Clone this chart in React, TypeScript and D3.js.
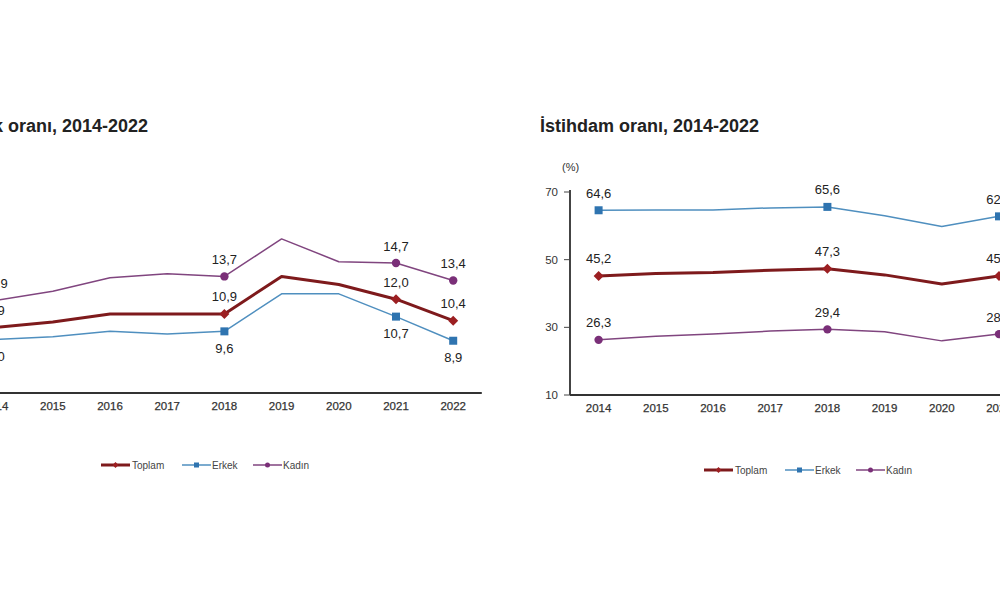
import * as React from 'react';
import * as d3 from 'd3';

// years on the x axis
const years = ['2014', '2015', '2016', '2017', '2018', '2019', '2020', '2021', '2022'];

// İşsizlik oranı (%)
const issizlikToplam = [9.9, 10.3, 10.9, 10.9, 10.9, 13.7, 13.1, 12.0, 10.4];
const issizlikErkek = [9.0, 9.2, 9.6, 9.4, 9.6, 12.4, 12.4, 10.7, 8.9];
const issizlikKadin = [11.9, 12.6, 13.6, 13.9, 13.7, 16.5, 14.8, 14.7, 13.4];

// İstihdam oranı (%)
const istihdamToplam = [45.2, 45.9, 46.2, 46.9, 47.3, 45.5, 42.8, 45.2, 47.5];
const istihdamErkek = [64.6, 64.7, 64.7, 65.3, 65.6, 63.0, 59.8, 62.8, 65.0];
const istihdamKadin = [26.3, 27.4, 28.0, 28.9, 29.4, 28.7, 26.0, 28.0, 30.4];

// which years get a marker and a value label
const labelledYears = ['2014', '2018', '2021', '2022'];

const issizlikTicks = [5, 10, 15, 20];
const istihdamTicks = [10, 30, 50, 70];

const colors = {
  Toplam: { line: '#7e1a1c', marker: '#9c1f22', width: 3 },
  Erkek: { line: '#4f8fbf', marker: '#2f74b0', width: 1.5 },
  Kadın: { line: '#80457f', marker: '#7a2f78', width: 1.5 },
} as Record<string, { line: string; marker: string; width: number }>;

const FONT = 'Arial, "Liberation Sans", sans-serif';

function fmt(v: number) {
  return v.toFixed(1).replace('.', ',');
}

interface ChartProps {
  x0: number; // position of the y axis
  title: string;
  titleX: number;
  domain: [number, number];
  ticks: number[];
  toplam: number[];
  erkek: number[];
  kadin: number[];
  // label placement: -1 above marker, 1 below
  labelSide: Record<string, number>;
  axisY: number;
  legendY: number;
}

function LineChart({ x0, title, titleX, domain, ticks, toplam, erkek, kadin, labelSide, axisY, legendY }: ChartProps) {
  const top = 192;
  const x = d3.scalePoint<string>().domain(years).range([x0, x0 + 9 * 57.2]).padding(0.5);
  const y = d3.scaleLinear().domain(domain).range([axisY, top]);
  const line = d3
    .line<number>()
    .x((_d, i) => x(years[i]) as number)
    .y((d) => y(d));

  const series = [
    { name: 'Kadın', values: kadin },
    { name: 'Erkek', values: erkek },
    { name: 'Toplam', values: toplam },
  ];

  const marker = (name: string, cx: number, cy: number, key: string) => {
    const c = colors[name].marker;
    if (name === 'Toplam') {
      const s = 5;
      return (
        <path key={key} d={`M${cx},${cy - s}L${cx + s},${cy}L${cx},${cy + s}L${cx - s},${cy}Z`} fill={c} />
      );
    }
    if (name === 'Erkek') {
      return <rect key={key} x={cx - 4} y={cy - 4} width={8} height={8} fill={c} />;
    }
    return <circle key={key} cx={cx} cy={cy} r={4.2} fill={c} />;
  };

  const legendX = x0 + 134;
  const legendItems = [
    { name: 'Toplam', lx: legendX, tx: legendX + 31 },
    { name: 'Erkek', lx: legendX + 81, tx: legendX + 111 },
    { name: 'Kadın', lx: legendX + 152, tx: legendX + 182 },
  ];

  return (
    <g fontFamily={FONT}>
      <text x={titleX} y={132} fontSize={18} fontWeight="bold" fill="#222">
        {title}
      </text>
      <text x={x0 - 8} y={171} fontSize={11} fill="#333">
        (%)
      </text>
      {/* y axis */}
      <line x1={x0} x2={x0} y1={top - 2} y2={axisY} stroke="#444" strokeWidth={2} />
      {ticks.map((t) => (
        <g key={t}>
          <line x1={x0 - 6} x2={x0} y1={y(t)} y2={y(t)} stroke="#444" strokeWidth={1} />
          <text x={x0 - 12} y={y(t)} dy="0.35em" textAnchor="end" fontSize={11.5} fill="#333">
            {t}
          </text>
        </g>
      ))}
      {/* x axis */}
      <line x1={x0} x2={x0 + 9 * 57.2} y1={axisY} y2={axisY} stroke="#333" strokeWidth={2} />
      {years.map((yr) => (
        <text
          key={yr}
          x={x(yr)}
          y={axisY + 17}
          textAnchor="middle"
          fontSize={11.5}
          fill="#333"
          stroke="#333"
          strokeWidth={0.25}
        >
          {yr}
        </text>
      ))}
      {/* lines */}
      {series.map((s) => (
        <path
          key={s.name}
          d={line(s.values) ?? ''}
          fill="none"
          stroke={colors[s.name].line}
          strokeWidth={colors[s.name].width}
          strokeLinejoin="round"
        />
      ))}
      {/* markers and labels */}
      {series.map((s) =>
        labelledYears.map((yr) => {
          const i = years.indexOf(yr);
          const cx = x(yr) as number;
          const cy = y(s.values[i]);
          return (
            <g key={s.name + yr}>
              {marker(s.name, cx, cy, 'm')}
              <text
                x={cx}
                y={cy + labelSide[s.name] * 17}
                dy="0.35em"
                textAnchor="middle"
                fontSize={13}
                fill="#222"
              >
                {fmt(s.values[i])}
              </text>
            </g>
          );
        })
      )}
      {/* legend */}
      {legendItems.map((it) => (
        <g key={it.name}>
          <line
            x1={it.lx}
            x2={it.lx + 29}
            y1={legendY}
            y2={legendY}
            stroke={colors[it.name].line}
            strokeWidth={it.name === 'Toplam' ? 3 : 1.5}
          />
          {it.name === 'Toplam' ? (
            <path
              d={`M${it.lx + 14.5},${legendY - 3}L${it.lx + 17.5},${legendY}L${it.lx + 14.5},${legendY + 3}L${it.lx + 11.5},${legendY}Z`}
              fill={colors[it.name].marker}
            />
          ) : it.name === 'Erkek' ? (
            <rect x={it.lx + 12} y={legendY - 2.5} width={5} height={5} fill={colors[it.name].marker} />
          ) : (
            <circle cx={it.lx + 14.5} cy={legendY} r={2.5} fill={colors[it.name].marker} />
          )}
          <text x={it.tx} y={legendY} dy="0.35em" fontSize={10} fill="#444">
            {it.name}
          </text>
        </g>
      ))}
    </g>
  );
}

export default function App() {
  return (
    <svg
      width={1000}
      height={593}
      viewBox="0 0 1000 593"
      style={{ position: 'absolute', left: 0, top: 0, display: 'block', background: '#fff' }}
    >
      <rect width={1000} height={593} fill="#fff" />
      <LineChart
        x0={-33}
        title="İşsizlik oranı, 2014-2022"
        titleX={-56}
        domain={[5, 20]}
        ticks={issizlikTicks}
        toplam={issizlikToplam}
        erkek={issizlikErkek}
        kadin={issizlikKadin}
        labelSide={{ Toplam: -1, Erkek: 1, Kadın: -1 }}
        axisY={393}
        legendY={465}
      />
      <LineChart
        x0={570}
        title="İstihdam oranı, 2014-2022"
        titleX={540}
        domain={[10, 70]}
        ticks={istihdamTicks}
        toplam={istihdamToplam}
        erkek={istihdamErkek}
        kadin={istihdamKadin}
        labelSide={{ Toplam: -1, Erkek: -1, Kadın: -1 }}
        axisY={395}
        legendY={470}
      />
    </svg>
  );
}
